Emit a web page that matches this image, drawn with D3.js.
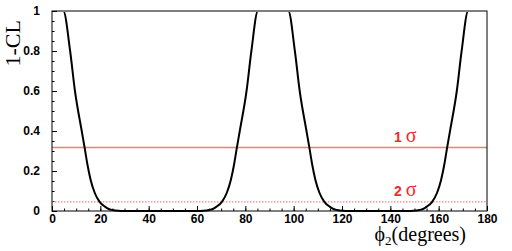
<!DOCTYPE html>
<html>
<head>
<meta charset="utf-8">
<script src="https://cdn.jsdelivr.net/npm/d3@7"></script>
<style>
  body { margin: 0; background: #fff; }
  .axis line { stroke: #000; }
</style>
</head>
<body>
<div class="chart"></div>
<script>
// phi2 (degrees) and 1-CL
const phi = [0, 4.7, 7.5, 9.5, 12.3, 13.5, 14.7, 16.0, 17.7, 19.7, 21.9, 23.5, 25, 27.5, 29.5,
  60.5, 62.5, 65, 66.5, 68.1, 70.3, 72.3, 74, 75.3, 76.5, 77.7, 80.5, 82.5, 85.2,
  97.8, 100.5, 102.5, 105.3, 106.5, 107.7, 109, 110.7, 112.7, 114.9, 116.5, 118, 120.5, 122.5,
  147.5, 149.5, 152, 153.5, 155.1, 157.3, 159.3, 161, 162.3, 163.5, 164.7, 167.5, 169.5, 172.2, 180];
const cl = [1, 1, 0.8, 0.6, 0.4, 0.317, 0.23, 0.155, 0.09, 0.046, 0.022, 0.01, 0.005, 0.001, 0,
  0, 0.001, 0.005, 0.01, 0.022, 0.046, 0.09, 0.155, 0.23, 0.317, 0.4, 0.6, 0.8, 1,
  1, 0.8, 0.6, 0.4, 0.317, 0.23, 0.155, 0.09, 0.046, 0.022, 0.01, 0.005, 0.001, 0,
  0, 0.001, 0.005, 0.01, 0.022, 0.046, 0.09, 0.155, 0.23, 0.317, 0.4, 0.6, 0.8, 1, 1];

const sigmaLevels = [0.3173, 0.0455];
const sigmaLabels = ['1', '2'];
const xTicks = [0, 20, 40, 60, 80, 100, 120, 140, 160, 180];
const yTicks = [0, 0.2, 0.4, 0.6, 0.8, 1];

const svg = d3.select('.chart').append('svg'),
  margin = { top: 11, right: 25, bottom: 40, left: 52 },
  width = 512 - margin.left - margin.right,
  height = 251 - margin.top - margin.bottom;

svg.attr('width', 512).attr('height', 251);

const x = d3.scaleLinear().domain([0, 180]).range([0, width]);
const y = d3.scaleLinear().domain([0, 1]).range([height, 0]);

const g = svg.append('g')
  .attr('transform', 'translate(' + margin.left + ',' + margin.top + ')');

svg.append('defs').append('clipPath').attr('id', 'plotclip')
  .append('rect').attr('x', 0).attr('y', 1).attr('width', width).attr('height', height);

function boldLabels(a) {
  a.select('.domain').remove();
  a.selectAll('text')
    .style('font-family', '"Liberation Sans", Arial, sans-serif')
    .style('font-weight', 'bold')
    .style('font-size', '12px')
    .attr('fill', '#000');
}

// minor ticks
g.append('g').attr('class', 'axis')
  .attr('transform', 'translate(0,' + height + ')')
  .call(d3.axisBottom(x).tickValues(d3.range(0, 181, 5)).tickSize(-2.5).tickFormat(''))
  .call(a => a.select('.domain').remove());
g.append('g').attr('class', 'axis')
  .call(d3.axisLeft(y).tickValues(d3.range(0, 1.001, 0.05)).tickSize(-2.5).tickFormat(''))
  .call(a => a.select('.domain').remove());

// major ticks
g.append('g').attr('class', 'x axis')
  .attr('transform', 'translate(0,' + height + ')')
  .call(d3.axisBottom(x).tickValues(xTicks).tickSize(-5).tickPadding(3).tickFormat(d3.format('d')))
  .call(boldLabels);
g.append('g').attr('class', 'y axis')
  .call(d3.axisLeft(y).tickValues(yTicks).tickSize(-5).tickPadding(12).tickFormat(d => d === 0 || d === 1 ? d : d3.format('.1f')(d)))
  .call(boldLabels);

// sigma lines
g.selectAll('.sigma')
  .data(sigmaLevels)
  .enter().append('line')
  .attr('class', 'sigma')
  .attr('x1', 0).attr('x2', width)
  .attr('y1', d => y(d)).attr('y2', d => y(d))
  .attr('stroke', (d, i) => i === 0 ? '#f27a7a' : '#f58a8a')
  .attr('stroke-width', (d, i) => i === 0 ? 1.5 : 1.2)
  .attr('stroke-dasharray', (d, i) => i === 0 ? null : '1.5,1.5');

const lab = g.selectAll('.siglab')
  .data(sigmaLevels)
  .enter().append('text')
  .attr('class', 'siglab')
  .attr('x', x(141.5))
  .attr('y', d => y(d) - 5.5)
  .attr('fill', '#f22a2a');
lab.append('tspan')
  .attr('font-family', '"Liberation Sans", Arial, sans-serif')
  .attr('font-weight', 'bold').attr('font-size', 14)
  .text((d, i) => sigmaLabels[i] + ' ');
lab.append('tspan')
  .attr('font-family', '"Liberation Serif", "Times New Roman", serif')
  .attr('font-size', 20)
  .text('σ');

// 1-CL curve
const pts = phi.map((p, i) => [p, cl[i]]);
g.append('path')
  .datum(pts)
  .attr('clip-path', 'url(#plotclip)')
  .attr('fill', 'none')
  .attr('stroke', '#000')
  .attr('stroke-width', 2)
  .attr('d', d3.line().x(d => x(d[0])).y(d => y(d[1])).curve(d3.curveMonotoneX));

// frame
g.append('rect')
  .attr('x', 0).attr('y', 0).attr('width', width).attr('height', height)
  .attr('fill', 'none').attr('stroke', '#000').attr('stroke-width', 1);

// axis titles
svg.append('text')
  .attr('transform', 'translate(20,20) rotate(-90)')
  .attr('text-anchor', 'end')
  .attr('font-family', '"Liberation Serif", "Times New Roman", serif')
  .attr('font-size', 22)
  .text('1-CL');

const xt = svg.append('text')
  .attr('x', 466).attr('y', 241)
  .attr('text-anchor', 'end')
  .attr('font-family', '"Liberation Serif", "Times New Roman", serif')
  .attr('font-size', 20);
xt.append('tspan').text('ϕ');
xt.append('tspan').attr('font-size', 13).attr('dy', 4).text('2');
xt.append('tspan').attr('dy', -4).text('(degrees)');
</script>
</body>
</html>
